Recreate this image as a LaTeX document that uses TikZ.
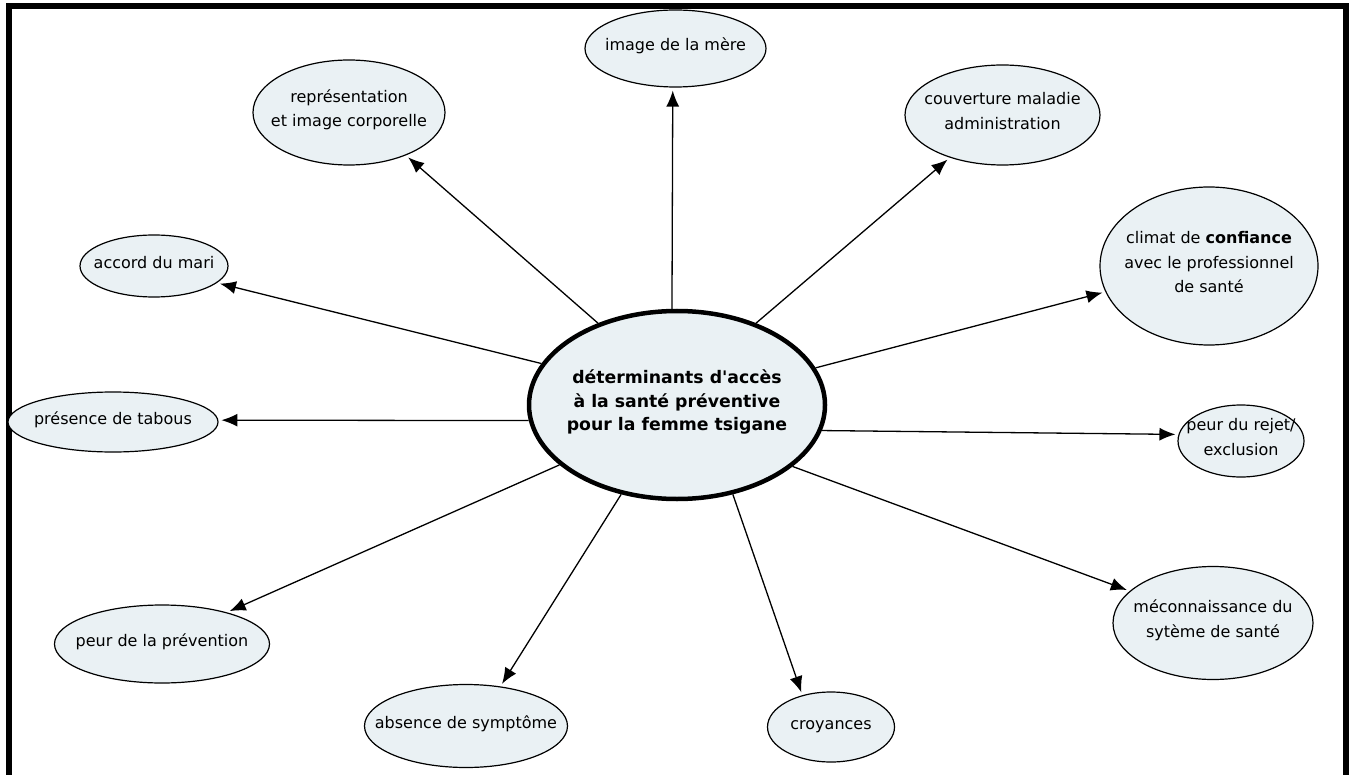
\documentclass[tikz,border=0pt]{standalone}
\usepackage{fontspec}
\setmainfont{DejaVu Sans}[Ligatures=TeXOff]
\usetikzlibrary{shapes.geometric,arrows.meta}
\definecolor{leaffill}{RGB}{234,241,244}
\newcommand\lbl[1]{\makebox[0pt]{\smash{\raisebox{-0.1em}{\begin{tabular}{@{}c@{}}#1\end{tabular}}}}}
\tikzset{
  leaf/.style={ellipse, draw=black, line width=1.2pt, fill=leaffill, inner sep=0pt,
    font=\fontsize{16}{24.5}\selectfont},
  hub/.style={ellipse, draw=black, line width=4.5pt, fill=leaffill, inner sep=0pt,
    font=\fontsize{17.3}{23.5}\selectfont\bfseries},
  link/.style={line width=1.3pt, -{Latex[length=16pt,width=13pt]}, shorten >=3pt},
  frame/.style={line width=6pt}
}
\begin{document}
\begin{tikzpicture}[x=1pt,y=-1pt]
\useasboundingbox (0,0) rectangle (1356,775);
\draw[frame] (9,775) -- (9,6) -- (1345.5,6) -- (1345.5,775);

\node[hub, minimum width=296pt, minimum height=188pt] (c) at (677,405)
  {\lbl{déterminants d'accès\\à la santé préventive\\pour la femme tsigane}};

\node[leaf, minimum width=181pt, minimum height=77pt] (mere) at (675.5,48.5) {\lbl{image de la mère}};
\node[leaf, minimum width=192pt, minimum height=105pt] (rep) at (349,112.5) {\lbl{représentation\\et image corporelle}};
\node[leaf, minimum width=195pt, minimum height=100pt] (couv) at (1002.5,115) {\lbl{couverture maladie\\administration}};
\node[leaf, minimum width=148pt, minimum height=62pt] (mari) at (154,266) {\lbl{accord du mari}};
\node[leaf, minimum width=218pt, minimum height=158pt] (conf) at (1209,266) {\lbl{climat de \textbf{confiance}\\avec le professionnel\\de santé}};
\node[leaf, minimum width=210pt, minimum height=60pt] (tabou) at (113,422) {\lbl{présence de tabous}};
\node[leaf, minimum width=126pt, minimum height=72pt] (rejet) at (1241,441) {\lbl{peur du rejet/\\exclusion}};
\node[leaf, minimum width=215pt, minimum height=78pt] (prev) at (162,644) {\lbl{peur de la prévention}};
\node[leaf, minimum width=200pt, minimum height=113pt] (meco) at (1213,623) {\lbl{méconnaissance du\\sytème de santé}};
\node[leaf, minimum width=203pt, minimum height=83pt] (abs) at (466,726) {\lbl{absence de symptôme}};
\node[leaf, minimum width=127pt, minimum height=70pt] (croy) at (831,727) {\lbl{croyances}};

\draw[link] (c.134) -- (rep.-37.4);
\draw[link] (c.93.1) -- (mere.266.6);
\draw[link] (c.46.7) -- (couv.219.3);
\draw[link] (c.163.3) -- (mari.345.5);
\draw[link] (c.15.8) -- (conf.194);
\draw[link] (c.186) -- (tabou.1);
\draw[link] (c.350.5) -- (rejet.174.6);
\draw[link] (c.207.6) -- (prev.26.3);
\draw[link] (c.332.3) -- (meco.159);
\draw[link] (c.238.5) -- (abs.49.3);
\draw[link] (c.302.5) -- (croy.132.4);
\end{tikzpicture}
\end{document}
